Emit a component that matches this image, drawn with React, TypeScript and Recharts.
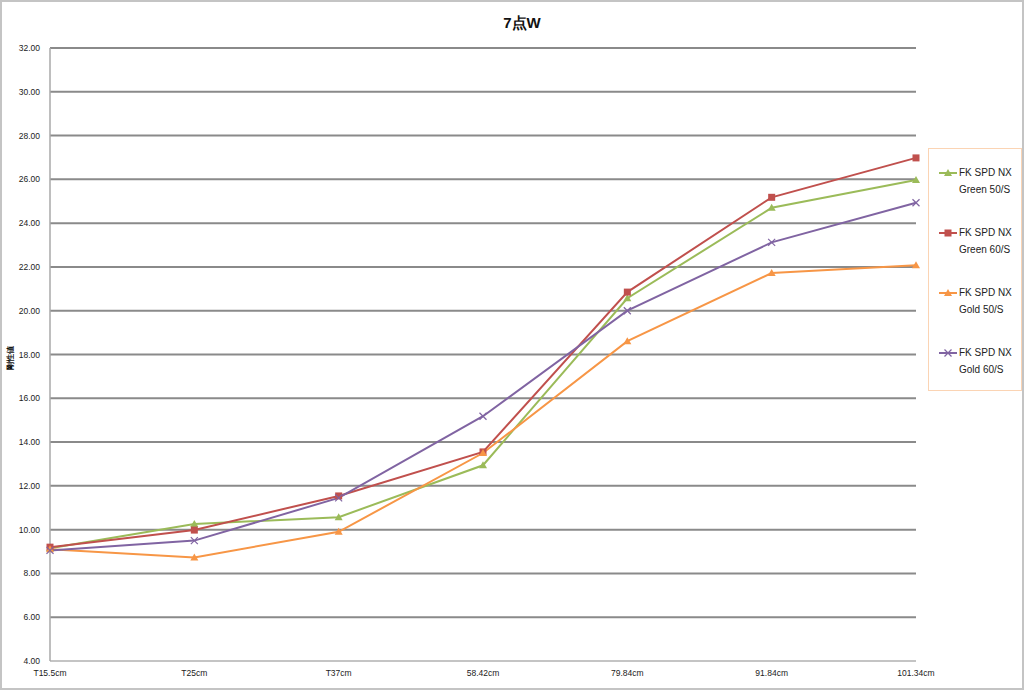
import React from "react";
import { LineChart, Line, XAxis, YAxis, CartesianGrid } from "recharts";

// 測定位置
const positions = ["T15.5cm", "T25cm", "T37cm", "58.42cm", "79.84cm", "91.84cm", "101.34cm"];

// 各シャフトの剛性値
const green50 = [9.15, 10.26, 10.57, 12.94, 20.57, 24.7, 25.97];
const green60 = [9.2, 9.98, 11.54, 13.55, 20.85, 25.18, 26.98];
const gold50 = [9.1, 8.73, 9.9, 13.5, 18.61, 21.72, 22.08];
const gold60 = [9.05, 9.5, 11.45, 15.18, 20.0, 23.12, 24.93];

const yTicks = [4, 6, 8, 10, 12, 14, 16, 18, 20, 22, 24, 26, 28, 30, 32];

const series = [
  { key: "green50", name: "FK SPD NX Green 50/S", line1: "FK SPD NX", line2: "Green 50/S", color: "#9bbb59", marker: "triangle" },
  { key: "green60", name: "FK SPD NX Green 60/S", line1: "FK SPD NX", line2: "Green 60/S", color: "#c0504d", marker: "square" },
  { key: "gold50", name: "FK SPD NX Gold 50/S", line1: "FK SPD NX", line2: "Gold 50/S", color: "#f79646", marker: "triangle" },
  { key: "gold60", name: "FK SPD NX Gold 60/S", line1: "FK SPD NX", line2: "Gold 60/S", color: "#8064a2", marker: "x" },
];

const data = positions.map((p, i) => ({
  pos: p,
  green50: green50[i],
  green60: green60[i],
  gold50: gold50[i],
  gold60: gold60[i],
}));

const FONT = "'Liberation Sans', Arial, sans-serif";

const Marker = ({ cx, cy, type, color }: any) => {
  if (cx == null || cy == null) return null;
  if (type === "square") {
    return <rect x={cx - 3.5} y={cy - 3.5} width={7} height={7} fill={color} />;
  }
  if (type === "triangle") {
    return <polygon points={`${cx},${cy - 4} ${cx + 4},${cy + 3} ${cx - 4},${cy + 3}`} fill={color} />;
  }
  return (
    <g stroke={color} strokeWidth={1.2}>
      <line x1={cx - 3.5} y1={cy - 3.5} x2={cx + 3.5} y2={cy + 3.5} />
      <line x1={cx - 3.5} y1={cy + 3.5} x2={cx + 3.5} y2={cy - 3.5} />
    </g>
  );
};

// 凡例（Excel風の枠付き）
const ChartLegend = () => (
  <div
    style={{
      position: "absolute",
      left: 926,
      top: 146,
      width: 94,
      height: 243,
      boxSizing: "border-box",
      border: "1px solid #fbd4b4",
      background: "#fff",
      fontFamily: FONT,
      fontSize: 10,
      color: "#222",
      paddingTop: 17,
    }}
  >
    {series.map((s) => (
      <div key={s.key} style={{ display: "flex", height: 60 }}>
        <svg width={22} height={14} style={{ marginLeft: 8 }}>
          <line x1={2} y1={7} x2={20} y2={7} stroke={s.color} strokeWidth={2} />
          <Marker cx={11} cy={7} type={s.marker} color={s.color} />
        </svg>
        <div style={{ lineHeight: "17px", marginTop: -2 }}>
          <div>{s.line1}</div>
          <div>{s.line2}</div>
        </div>
      </div>
    ))}
  </div>
);

export default function App() {
  return (
    <div
      style={{
        position: "absolute",
        left: 0,
        top: 0,
        width: 1024,
        height: 690,
        background: "#fff",
        border: "2px solid #c4c4c4",
        boxSizing: "border-box",
      }}
    >
      <div
        style={{
          position: "absolute",
          left: 0,
          top: 12,
          width: 1040,
          textAlign: "center",
          fontFamily: FONT,
          fontWeight: "bold",
          fontSize: 15,
          color: "#111",
        }}
      >
        7点W
      </div>
      <div
        style={{
          position: "absolute",
          left: -12,
          top: 350,
          width: 40,
          textAlign: "center",
          transform: "rotate(-90deg)",
          fontFamily: FONT,
          fontWeight: "bold",
          fontSize: 8,
          color: "#111",
        }}
      >
        剛性値
      </div>
      <LineChart
        width={1020}
        height={686}
        data={data}
        margin={{ top: 46, right: 106, left: 0, bottom: 0 }}
        style={{ position: "absolute", left: 0, top: 0 }}
      >
        <CartesianGrid vertical={false} stroke="#8a8a8a" strokeWidth={2} />
        <XAxis
          dataKey="pos"
          height={27}
          tickSize={0}
          tickMargin={9}
          axisLine={{ stroke: "#c4c4c4", strokeWidth: 2 }}
          tick={{ fontSize: 8.5, fill: "#222", fontFamily: FONT }}
          interval={0}
        />
        <YAxis
          width={48}
          domain={[4, 32]}
          ticks={yTicks}
          tickSize={0}
          tickMargin={10}
          tickFormatter={(v: number) => v.toFixed(2)}
          axisLine={{ stroke: "#a8a8a8", strokeWidth: 1.5 }}
          tick={{ fontSize: 8.5, fill: "#222", fontFamily: FONT }}
        />
        {series.map((s) => (
          <Line
            key={s.key}
            dataKey={s.key}
            name={s.name}
            stroke={s.color}
            strokeWidth={2}
            type="linear"
            isAnimationActive={false}
            dot={(p: any) => <Marker key={`${s.key}-${p.index}`} cx={p.cx} cy={p.cy} type={s.marker} color={s.color} />}
            activeDot={false}
          />
        ))}
      </LineChart>
      <ChartLegend />
    </div>
  );
}
